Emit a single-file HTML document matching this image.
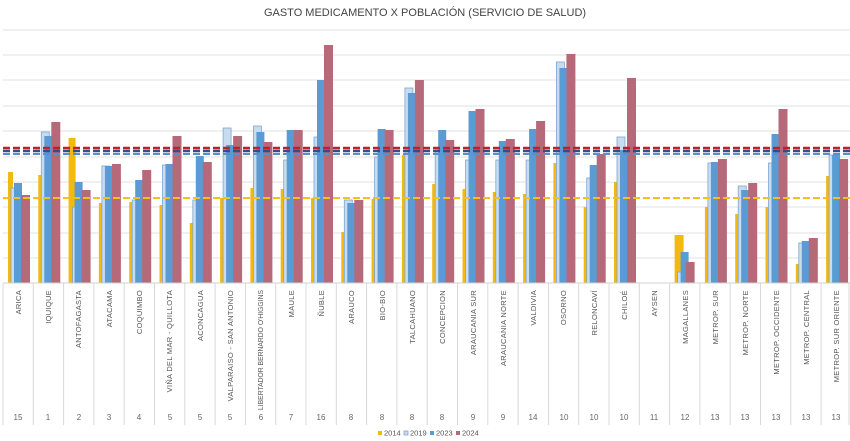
<!DOCTYPE html>
<html><head><meta charset="utf-8"><style>
html,body{margin:0;padding:0;background:#fff;}
svg{display:block;font-family:"Liberation Sans",sans-serif;}
.y{fill:#f2b90f}.l{fill:#c8dcf0;stroke:#7fa6d2;stroke-width:.8}.b{fill:#5b9bd5}.r{fill:#b66a79}
.lab{font-size:7.5px;fill:#555;letter-spacing:.3px}
.num{font-size:8px;fill:#666}
</style></head><body>
<svg width="850" height="441" viewBox="0 0 850 441">
<text x="425" y="16" text-anchor="middle" font-size="11" fill="#444">GASTO MEDICAMENTO X POBLACIÓN (SERVICIO DE SALUD)</text>
<g stroke="#e2e2e2" stroke-width="1">
<line x1="3" x2="850" y1="30" y2="30"/><line x1="3" x2="850" y1="55" y2="55"/><line x1="3" x2="850" y1="80" y2="80"/><line x1="3" x2="850" y1="106" y2="106"/><line x1="3" x2="850" y1="131" y2="131"/><line x1="3" x2="850" y1="157" y2="157"/><line x1="3" x2="850" y1="182" y2="182"/><line x1="3" x2="850" y1="207" y2="207"/><line x1="3" x2="850" y1="233" y2="233"/><line x1="3" x2="850" y1="258" y2="258"/>
</g>
<g id="bars">
<g transform="translate(3,0)"><rect class="y" x="5" y="172" width="5" height="111"/><rect class="l" x="8" y="188" width="8" height="95"/><rect class="b" x="11" y="183" width="8" height="100"/><rect class="r" x="18" y="195" width="9" height="88"/></g>
<g transform="translate(33.3,0)"><rect class="y" x="5" y="175" width="5" height="108"/><rect class="l" x="8" y="132" width="8" height="151"/><rect class="b" x="11" y="136" width="8" height="147"/><rect class="r" x="18" y="122" width="9" height="161"/></g>
<g transform="translate(63.6,0)"><rect class="y" x="5" y="138" width="7" height="145"/><rect class="l" x="9" y="207" width="7" height="76"/><rect class="b" x="11" y="182" width="8" height="101"/><rect class="r" x="18" y="190" width="9" height="93"/></g>
<g transform="translate(93.9,0)"><rect class="y" x="5" y="203" width="5" height="80"/><rect class="l" x="8" y="166" width="8" height="117"/><rect class="b" x="11" y="166" width="8" height="117"/><rect class="r" x="18" y="164" width="9" height="119"/></g>
<g transform="translate(124.2,0)"><rect class="y" x="5" y="202" width="5" height="81"/><rect class="l" x="8" y="200" width="8" height="83"/><rect class="b" x="11" y="180" width="8" height="103"/><rect class="r" x="18" y="170" width="9" height="113"/></g>
<g transform="translate(154.5,0)"><rect class="y" x="5" y="205" width="5" height="78"/><rect class="l" x="8" y="165" width="8" height="118"/><rect class="b" x="11" y="164" width="8" height="119"/><rect class="r" x="18" y="136" width="9" height="147"/></g>
<g transform="translate(184.8,0)"><rect class="y" x="5" y="223" width="5" height="60"/><rect class="l" x="8" y="200" width="8" height="83"/><rect class="b" x="11" y="156" width="8" height="127"/><rect class="r" x="18" y="162" width="9" height="121"/></g>
<g transform="translate(215.1,0)"><rect class="y" x="5" y="198" width="5" height="85"/><rect class="l" x="8" y="128" width="8" height="155"/><rect class="b" x="11" y="145" width="8" height="138"/><rect class="r" x="18" y="136" width="9" height="147"/></g>
<g transform="translate(245.4,0)"><rect class="y" x="5" y="188" width="5" height="95"/><rect class="l" x="8" y="126" width="8" height="157"/><rect class="b" x="11" y="132" width="8" height="151"/><rect class="r" x="18" y="142" width="9" height="141"/></g>
<g transform="translate(275.7,0)"><rect class="y" x="5" y="189" width="5" height="94"/><rect class="l" x="8" y="160" width="8" height="123"/><rect class="b" x="11" y="130" width="8" height="153"/><rect class="r" x="18" y="130" width="9" height="153"/></g>
<g transform="translate(306,0)"><rect class="y" x="5" y="198" width="5" height="85"/><rect class="l" x="8" y="137" width="8" height="146"/><rect class="b" x="11" y="80" width="8" height="203"/><rect class="r" x="18" y="45" width="9" height="238"/></g>
<g transform="translate(336.3,0)"><rect class="y" x="5" y="232" width="5" height="51"/><rect class="l" x="8" y="200" width="8" height="83"/><rect class="b" x="11" y="203" width="8" height="80"/><rect class="r" x="18" y="200" width="9" height="83"/></g>
<g transform="translate(366.6,0)"><rect class="y" x="5" y="199" width="5" height="84"/><rect class="l" x="8" y="157" width="8" height="126"/><rect class="b" x="11" y="129" width="8" height="154"/><rect class="r" x="18" y="130" width="9" height="153"/></g>
<g transform="translate(396.9,0)"><rect class="y" x="5" y="155" width="5" height="128"/><rect class="l" x="8" y="88" width="8" height="195"/><rect class="b" x="11" y="93" width="8" height="190"/><rect class="r" x="18" y="80" width="9" height="203"/></g>
<g transform="translate(427.2,0)"><rect class="y" x="5" y="184" width="5" height="99"/><rect class="l" x="8" y="150" width="8" height="133"/><rect class="b" x="11" y="130" width="8" height="153"/><rect class="r" x="18" y="140" width="9" height="143"/></g>
<g transform="translate(457.5,0)"><rect class="y" x="5" y="189" width="5" height="94"/><rect class="l" x="8" y="160" width="8" height="123"/><rect class="b" x="11" y="111" width="8" height="172"/><rect class="r" x="18" y="109" width="9" height="174"/></g>
<g transform="translate(487.8,0)"><rect class="y" x="5" y="192" width="5" height="91"/><rect class="l" x="8" y="160" width="8" height="123"/><rect class="b" x="11" y="141" width="8" height="142"/><rect class="r" x="18" y="139" width="9" height="144"/></g>
<g transform="translate(518.1,0)"><rect class="y" x="5" y="194" width="5" height="89"/><rect class="l" x="8" y="160" width="8" height="123"/><rect class="b" x="11" y="129" width="8" height="154"/><rect class="r" x="18" y="121" width="9" height="162"/></g>
<g transform="translate(548.4,0)"><rect class="y" x="5" y="163" width="5" height="120"/><rect class="l" x="8" y="62" width="8" height="221"/><rect class="b" x="11" y="68" width="8" height="215"/><rect class="r" x="18" y="54" width="9" height="229"/></g>
<g transform="translate(578.7,0)"><rect class="y" x="5" y="207" width="5" height="76"/><rect class="l" x="8" y="178" width="8" height="105"/><rect class="b" x="11" y="165" width="8" height="118"/><rect class="r" x="18" y="154" width="9" height="129"/></g>
<g transform="translate(609,0)"><rect class="y" x="5" y="182" width="5" height="101"/><rect class="l" x="8" y="137" width="8" height="146"/><rect class="b" x="11" y="150" width="8" height="133"/><rect class="r" x="18" y="78" width="9" height="205"/></g>
<g transform="translate(669.6,0)"><rect class="y" x="5" y="235" width="9" height="48"/><rect class="l" x="8" y="272" width="8" height="11"/><rect class="b" x="11" y="252" width="8" height="31"/><rect class="r" x="16" y="262" width="9" height="21"/></g>
<g transform="translate(699.9,0)"><rect class="y" x="5" y="207" width="5" height="76"/><rect class="l" x="8" y="163" width="8" height="120"/><rect class="b" x="11" y="162" width="8" height="121"/><rect class="r" x="18" y="159" width="9" height="124"/></g>
<g transform="translate(730.2,0)"><rect class="y" x="5" y="214" width="5" height="69"/><rect class="l" x="8" y="186" width="8" height="97"/><rect class="b" x="11" y="190" width="8" height="93"/><rect class="r" x="18" y="183" width="9" height="100"/></g>
<g transform="translate(760.5,0)"><rect class="y" x="5" y="207" width="5" height="76"/><rect class="l" x="8" y="163" width="8" height="120"/><rect class="b" x="11" y="134" width="8" height="149"/><rect class="r" x="18" y="109" width="9" height="174"/></g>
<g transform="translate(790.8,0)"><rect class="y" x="5" y="264" width="5" height="19"/><rect class="l" x="8" y="243" width="8" height="40"/><rect class="b" x="11" y="241" width="8" height="42"/><rect class="r" x="18" y="238" width="9" height="45"/></g>
<g transform="translate(821.1,0)"><rect class="y" x="5" y="176" width="5" height="107"/><rect class="l" x="8" y="155" width="8" height="128"/><rect class="b" x="11" y="155" width="8" height="128"/><rect class="r" x="18" y="159" width="9" height="124"/></g>
</g>
<g stroke-width="2.5" stroke-dasharray="7,3" fill="none">
<line x1="3" x2="850" y1="198" y2="198" stroke="#f2c21a" stroke-width="2"/>
<line x1="3" x2="850" y1="154" y2="154" stroke="#5a8fc8" stroke-width="2"/>
<line x1="3" x2="850" y1="151" y2="151" stroke="#2f4f8f"/>
<line x1="3" x2="850" y1="148" y2="148" stroke="#c0202a"/>
</g>
<line x1="3" x2="850" y1="283" y2="283" stroke="#d0d0d0"/>
<g stroke="#d8d8d8">
<line x1="3" x2="3" y1="283" y2="425"/><line x1="33.3" x2="33.3" y1="283" y2="425"/><line x1="63.6" x2="63.6" y1="283" y2="425"/><line x1="93.9" x2="93.9" y1="283" y2="425"/><line x1="124.2" x2="124.2" y1="283" y2="425"/><line x1="154.5" x2="154.5" y1="283" y2="425"/><line x1="184.8" x2="184.8" y1="283" y2="425"/><line x1="215.1" x2="215.1" y1="283" y2="425"/><line x1="245.4" x2="245.4" y1="283" y2="425"/><line x1="275.7" x2="275.7" y1="283" y2="425"/><line x1="306" x2="306" y1="283" y2="425"/><line x1="336.3" x2="336.3" y1="283" y2="425"/><line x1="366.6" x2="366.6" y1="283" y2="425"/><line x1="396.9" x2="396.9" y1="283" y2="425"/><line x1="427.2" x2="427.2" y1="283" y2="425"/><line x1="457.5" x2="457.5" y1="283" y2="425"/><line x1="487.8" x2="487.8" y1="283" y2="425"/><line x1="518.1" x2="518.1" y1="283" y2="425"/><line x1="548.4" x2="548.4" y1="283" y2="425"/><line x1="578.7" x2="578.7" y1="283" y2="425"/><line x1="609" x2="609" y1="283" y2="425"/><line x1="639.3" x2="639.3" y1="283" y2="425"/><line x1="669.6" x2="669.6" y1="283" y2="425"/><line x1="699.9" x2="699.9" y1="283" y2="425"/><line x1="730.2" x2="730.2" y1="283" y2="425"/><line x1="760.5" x2="760.5" y1="283" y2="425"/><line x1="790.8" x2="790.8" y1="283" y2="425"/><line x1="821.1" x2="821.1" y1="283" y2="425"/><line x1="849" x2="849" y1="283" y2="425"/>
</g>
<g class="lab" text-anchor="end">
<text transform="translate(21,290) rotate(-90)">ARICA</text>
<text transform="translate(51,290) rotate(-90)">IQUIQUE</text>
<text transform="translate(81,290) rotate(-90)">ANTOFAGASTA</text>
<text transform="translate(112,290) rotate(-90)">ATACAMA</text>
<text transform="translate(142,290) rotate(-90)">COQUIMBO</text>
<text transform="translate(172,290) rotate(-90)">VIÑA DEL MAR - QUILLOTA</text>
<text transform="translate(203,290) rotate(-90)">ACONCAGUA</text>
<text transform="translate(233,290) rotate(-90)">VALPARAISO - SAN ANTONIO</text>
<text transform="translate(263,290) rotate(-90)" textLength="120" lengthAdjust="spacingAndGlyphs" style="letter-spacing:0">LIBERTADOR BERNARDO O'HIGGINS</text>
<text transform="translate(294,290) rotate(-90)">MAULE</text>
<text transform="translate(324,290) rotate(-90)">ÑUBLE</text>
<text transform="translate(354,290) rotate(-90)">ARAUCO</text>
<text transform="translate(385,290) rotate(-90)">BIO-BIO</text>
<text transform="translate(415,290) rotate(-90)">TALCAHUANO</text>
<text transform="translate(445,290) rotate(-90)">CONCEPCION</text>
<text transform="translate(476,290) rotate(-90)">ARAUCANIA SUR</text>
<text transform="translate(506,290) rotate(-90)">ARAUCANIA NORTE</text>
<text transform="translate(536,290) rotate(-90)">VALDIVIA</text>
<text transform="translate(566,290) rotate(-90)">OSORNO</text>
<text transform="translate(597,290) rotate(-90)">RELONCAVÍ</text>
<text transform="translate(627,290) rotate(-90)">CHILOÉ</text>
<text transform="translate(657,290) rotate(-90)">AYSEN</text>
<text transform="translate(688,290) rotate(-90)">MAGALLANES</text>
<text transform="translate(718,290) rotate(-90)">METROP. SUR</text>
<text transform="translate(748,290) rotate(-90)">METROP. NORTE</text>
<text transform="translate(779,290) rotate(-90)">METROP. OCCIDENTE</text>
<text transform="translate(809,290) rotate(-90)">METROP. CENTRAL</text>
<text transform="translate(839,290) rotate(-90)">METROP. SUR ORIENTE</text>
</g>
<g class="num" text-anchor="middle">
<text x="18" y="420">15</text><text x="48" y="420">1</text><text x="79" y="420">2</text><text x="109" y="420">3</text><text x="139" y="420">4</text><text x="170" y="420">5</text><text x="200" y="420">5</text><text x="230" y="420">5</text><text x="261" y="420">6</text><text x="291" y="420">7</text><text x="321" y="420">16</text><text x="351" y="420">8</text><text x="382" y="420">8</text><text x="412" y="420">8</text><text x="442" y="420">8</text><text x="473" y="420">9</text><text x="503" y="420">9</text><text x="533" y="420">14</text><text x="564" y="420">10</text><text x="594" y="420">10</text><text x="624" y="420">10</text><text x="654" y="420">11</text><text x="685" y="420">12</text><text x="715" y="420">13</text><text x="745" y="420">13</text><text x="776" y="420">13</text><text x="806" y="420">13</text><text x="836" y="420">13</text>
</g>
<g font-size="7.5" fill="#555">
<rect x="378" y="431" width="4" height="4" class="y"/><text x="384" y="435.5">2014</text>
<rect x="404" y="431" width="4" height="4" class="l"/><text x="410" y="435.5">2019</text>
<rect x="430" y="431" width="4" height="4" class="b"/><text x="436" y="435.5">2023</text>
<rect x="456" y="431" width="4" height="4" class="r"/><text x="462" y="435.5">2024</text>
</g>
</svg>
</body></html>
